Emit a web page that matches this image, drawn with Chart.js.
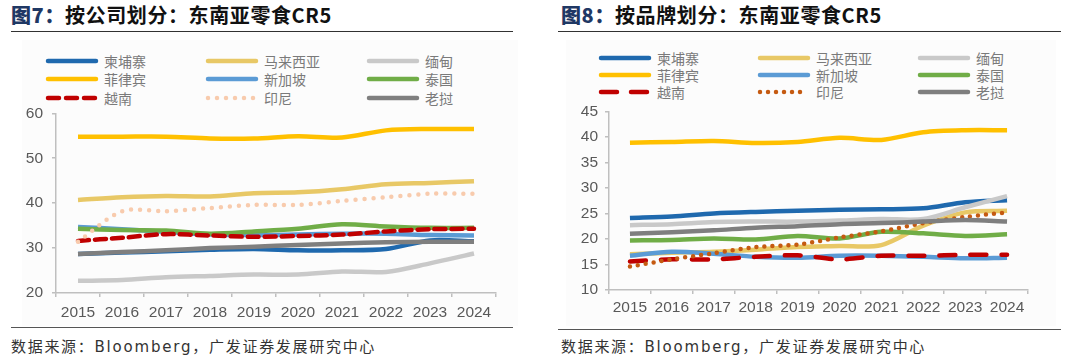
<!DOCTYPE html>
<html>
<head>
<meta charset="utf-8">
<script src="https://cdn.jsdelivr.net/npm/chart.js@4.4.1/dist/chart.umd.min.js"></script>
<style>
  html, body { margin: 0; padding: 0; background: #fff; }
  body { width: 1080px; height: 364px; position: relative; overflow: hidden; font-family: "Noto Sans CJK SC", sans-serif; }
  .title { position: absolute; top: 0px; font-size: 20px; letter-spacing: 0.6px; font-weight: bold; color: #111; white-space: nowrap; }
  .title b { color: #1F3864; }
  .rule { position: absolute; height: 0; border-top: 1.5px solid #333; }
  .panel { position: absolute; background: #FCFCFC; }
  .legend { position: absolute; font-size: 14px; color: #7a7a7a; }
  .legend .item { position: absolute; display: flex; align-items: center; white-space: nowrap; }
  .legend svg { margin-right: 5px; }
  .source { position: absolute; top: 335px; font-size: 15px; letter-spacing: 1.7px; color: #333; white-space: nowrap; }
  .source .en { font-family: "DejaVu Sans", sans-serif; font-size: 15px; letter-spacing: 1.8px; }
  canvas { position: absolute; }
</style>
</head>
<body>
<script>
// ---- data ----
const years = ['2015', '2016', '2017', '2018', '2019', '2020', '2021', '2022', '2023', '2024'];
const countries = ['柬埔寨', '马来西亚', '缅甸', '菲律宾', '新加坡', '泰国', '越南', '印尼', '老挝'];

// 图7 按公司划分
const companyCambodia = [28.7, 29.0, 29.3, 29.6, 29.8, 29.5, 29.5, 29.8, 31.7, 31.5];
const companyMalaysia = [40.7, 41.3, 41.6, 41.5, 42.2, 42.4, 43.1, 44.2, 44.5, 44.9];
const companyMyanmar = [22.7, 22.9, 23.5, 23.8, 24.1, 24.1, 24.8, 24.7, 26.6, 28.8];
const companyPhilippines = [54.8, 54.8, 54.8, 54.4, 54.4, 54.9, 54.6, 56.2, 56.5, 56.5];
const companySingapore = [34.7, 34.2, 33.6, 33.0, 32.9, 33.0, 33.2, 33.2, 32.9, 32.8];
const companyThailand = [34.3, 34.0, 33.9, 33.2, 33.7, 34.3, 35.3, 34.8, 34.5, 34.5];
const companyVietnam = [31.6, 32.3, 33.1, 32.8, 32.5, 32.7, 33.0, 33.7, 34.2, 34.3];
const companyIndonesia = [31.4, 38.2, 38.2, 38.9, 39.6, 39.6, 40.5, 41.3, 42.1, 42.1];
const companyLaos = [28.7, 29.1, 29.5, 30.0, 30.3, 30.7, 31.0, 31.3, 31.4, 31.4];
const companyTicks = [20, 60, 10];

// 图8 按品牌划分
const brandCambodia = [24.1, 24.4, 25.0, 25.3, 25.5, 25.7, 25.8, 26.0, 27.2, 27.6];
const brandMalaysia = [17.0, 17.3, 17.5, 17.9, 18.4, 18.6, 18.8, 22.6, 25.2, 25.5];
const brandMyanmar = [22.7, 22.9, 23.3, 23.4, 23.4, 23.6, 23.9, 23.9, 26.2, 28.4];
const brandPhilippines = [38.85, 39.0, 39.2, 38.8, 39.0, 39.8, 39.4, 40.9, 41.3, 41.3];
const brandSingapore = [16.7, 17.5, 17.1, 16.5, 16.3, 16.7, 16.7, 16.5, 16.2, 16.3];
const brandThailand = [19.7, 19.8, 20.1, 19.9, 20.6, 20.1, 21.4, 21.1, 20.6, 20.9];
const brandVietnam = [15.6, 16.0, 16.0, 16.5, 16.8, 16.0, 16.7, 16.7, 16.9, 16.9];
const brandIndonesia = [14.6, 16.0, 17.2, 18.4, 18.9, 20.3, 21.5, 23.1, 24.3, 25.2];
const brandLaos = [21.0, 21.3, 21.7, 22.2, 22.5, 22.9, 23.1, 23.4, 23.7, 23.4];
const brandTicks = [10, 45, 5];

// ---- styles ----
const colors = ['#1F69AE', '#E8C866', '#C9C9C9', '#FFC000', '#5B9BD5', '#70AD47', '#C00000', '#F8CBAD', '#7F7F7F'];
const tickFont = { family: '"Liberation Sans", Arial, sans-serif', size: 15.5 };
const sourceHtml = '数据来源：<span class="en">Bloomberg</span>，广发证券发展研究中心';

function el(tag, cls, css, html) {
  const e = document.createElement(tag);
  if (cls) e.className = cls;
  Object.assign(e.style, css || {});
  if (html) e.innerHTML = html;
  document.body.appendChild(e);
  return e;
}

function legendSvg(color, dash) {
  const da = dash ? `stroke-dasharray="${dash.join(' ')}"` : '';
  return `<svg width="54" height="8"><line x1="3" y1="4" x2="51" y2="4" stroke="${color}" stroke-width="4.5" stroke-linecap="round" ${da}/></svg>`;
}

function makeChart(opt) {
  const g = opt.geo;
  el('div', 'panel', { left: g.panelL + 'px', top: '40px', width: g.panelW + 'px', height: '286px' });
  el('div', 'title', { left: g.x0 + 'px' }, opt.title);
  el('div', 'rule', { left: g.ruleL + 'px', width: (g.ruleR - g.ruleL) + 'px', top: '31px' });
  el('div', 'rule', { left: g.ruleL + 'px', width: (g.ruleR - g.ruleL) + 'px', top: g.botRule + 'px', borderTopWidth: '1px', borderColor: '#555' });
  el('div', 'source', { left: g.x0 + 'px' }, sourceHtml);

  const lg = el('div', 'legend', { left: '0px', top: '0px' });
  countries.forEach((name, i) => {
    const col = i % 3, row = Math.floor(i / 3);
    const item = document.createElement('div');
    item.className = 'item';
    item.style.left = g.legX[col] + 'px';
    item.style.top = (g.legY[row] - 9) + 'px';
    item.innerHTML = legendSvg(opt.colors[i], opt.legendDash[i]) + '<span>' + name + '</span>';
    lg.appendChild(item);
  });

  const cv = el('canvas', null, { left: g.cx + 'px', top: '95px' });
  cv.width = 540; cv.height = 235;

  const datasets = opt.series.map((d, i) => ({
    label: countries[i],
    data: d,
    borderColor: opt.colors[i],
    backgroundColor: opt.colors[i],
    borderWidth: 4.5,
    borderDash: opt.dash[i] || [],
    borderCapStyle: opt.dash[i] ? 'round' : 'butt',
    pointRadius: 0,
    tension: 0.3,
    fill: false,
    order: opt.series.length - i,
  }));

  new Chart(cv.getContext('2d'), {
    type: 'line',
    data: { labels: years, datasets: datasets },
    options: {
      responsive: false,
      animation: false,
      events: [],
      layout: { padding: { left: 0, right: g.padR, top: g.padT, bottom: 0 } },
      plugins: { legend: { display: false }, tooltip: { enabled: false } },
      scales: {
        x: {
          offset: true,
          grid: { offset: true, drawOnChartArea: false, tickLength: 4, color: '#BFBFBF', lineWidth: 1.5 },
          border: { color: '#BFBFBF', width: 1.5 },
          ticks: { color: '#595959', font: tickFont, padding: g.xPad, maxRotation: 0, autoSkip: false },
          afterFit: s => { s.height = g.xH; },
        },
        y: {
          min: opt.ticks[0], max: opt.ticks[1],
          grid: { drawOnChartArea: false, tickLength: 4, color: '#BFBFBF', lineWidth: 1.5 },
          border: { color: '#BFBFBF', width: 1.5 },
          ticks: { stepSize: opt.ticks[2], color: '#595959', font: tickFont, padding: g.yPad },
          afterFit: s => { s.width = g.yW; },
        },
      },
    },
  });
}

makeChart({
  title: '<b>图7：</b>按公司划分：东南亚零食CR5',
  series: [companyCambodia, companyMalaysia, companyMyanmar, companyPhilippines, companySingapore,
           companyThailand, companyVietnam, companyIndonesia, companyLaos],
  colors: colors,
  dash: [null, null, null, null, null, null, [11, 6], [0, 9], null],
  legendDash: [null, null, null, null, null, null, [11, 7], [0, 9], null],
  ticks: companyTicks,
  geo: { x0: 11, ruleL: 11, ruleR: 513, panelL: 22, panelW: 496, botRule: 327, cx: 0,
         padR: 44, padT: 13, yW: 56, xH: 37, xPad: 6, yPad: 9,
         legX: [45, 205, 366], legY: [60, 78, 97] },
});

const brandColors = colors.slice();
brandColors[7] = '#C55A11';
makeChart({
  title: '<b>图8：</b>按品牌划分：东南亚零食CR5',
  series: [brandCambodia, brandMalaysia, brandMyanmar, brandPhilippines, brandSingapore,
           brandThailand, brandVietnam, brandIndonesia, brandLaos],
  colors: brandColors,
  dash: [null, null, null, null, null, null, [16, 15], [0, 8], null],
  legendDash: [null, null, null, null, null, null, [16, 14], [0, 8], null],
  ticks: brandTicks,
  geo: { x0: 561, ruleL: 558, ruleR: 1061, panelL: 566, panelW: 490, botRule: 329, cx: 540,
         padR: 52, padT: 11, yW: 69, xH: 40, xPad: 4, yPad: 7,
         legX: [598, 757, 917], legY: [57, 74, 91] },
});
</script>
</body>
</html>
